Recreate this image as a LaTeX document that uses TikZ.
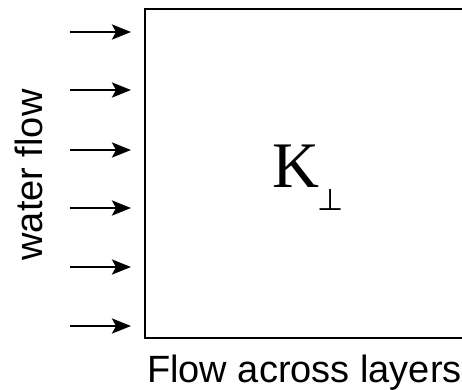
\documentclass[tikz,border=0pt]{standalone}
\usepackage{fontspec}
\setmainfont{Liberation Serif}
\newfontfamily\labelfont{Liberation Sans}
\newfontfamily\symbfont{DejaVu Sans}
\usetikzlibrary{arrows.meta}
\tikzset{
  flowarrow/.style={line width=2.8pt,-{Stealth[length=19pt,width=15pt,inset=4pt]}},
  layerbox/.style={draw,line width=2.8pt},
  sidelabel/.style={font=\labelfont\fontsize{38}{40}\selectfont,inner sep=0pt}
}
\begin{document}
\begin{tikzpicture}[x=1pt,y=-1pt]
\useasboundingbox (0,0) rectangle (462,389);
\clip (0,0) rectangle (462,389);
\fill[white] (0,0) rectangle (462,389);
\draw[layerbox] (145,9) rectangle (480,338);
\foreach \i/\y in {1/32,2/90,3/150,4/208,5/267,6/326}{
  \coordinate (s\i) at (70,\y);
  \coordinate (e\i) at (131,\y);
  \draw[flowarrow] (s\i) -- (e\i);
}
\node[sidelabel,rotate=90,anchor=south] (wf) at (43,175) {water flow};
\node[sidelabel,anchor=base west] (fa) at (147,382) {Flow across layers};
\node[inner sep=0pt,anchor=base west,font=\fontsize{65}{65}\selectfont] (K) at (272,187) {K};
\node[inner sep=0pt,anchor=base west,font=\symbfont\fontsize{30}{30}\selectfont] (perp) at (317,210) {⊥};
\end{tikzpicture}
\end{document}
